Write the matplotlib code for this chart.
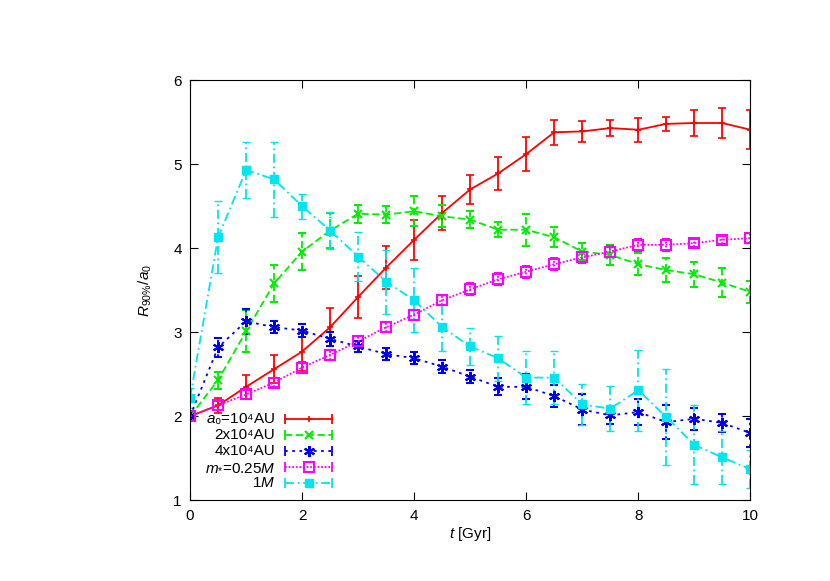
import numpy as np
import matplotlib
matplotlib.use('Agg')
import matplotlib.pyplot as plt

plt.rcParams['font.family'] = ['Liberation Sans', 'DejaVu Sans']
plt.rcParams['mathtext.fontset'] = 'custom'
plt.rcParams['mathtext.rm'] = 'Liberation Sans'
plt.rcParams['mathtext.it'] = 'Liberation Sans:italic'

t = np.arange(0, 10.01, 0.5)

# a0 = 1e4 AU
r1 = [2.0, 2.13, 2.35, 2.56, 2.77, 3.06, 3.42, 3.77, 4.10, 4.42, 4.70,
      4.89, 5.12, 5.38, 5.39, 5.43, 5.41, 5.48, 5.49, 5.49, 5.41]
e1 = [0.02, 0.09, 0.14, 0.17, 0.23, 0.23, 0.25, 0.26, 0.24, 0.20, 0.17,
      0.20, 0.20, 0.15, 0.13, 0.10, 0.14, 0.08, 0.15, 0.18, 0.23]
# 2e4 AU
r2 = [2.0, 2.43, 3.01, 3.58, 3.96, 4.21, 4.41, 4.40, 4.44, 4.38, 4.34,
      4.22, 4.22, 4.13, 3.96, 3.92, 3.81, 3.74, 3.69, 3.59, 3.48]
e2 = [0.02, 0.10, 0.25, 0.22, 0.22, 0.21, 0.11, 0.10, 0.18, 0.13, 0.10,
      0.09, 0.19, 0.12, 0.10, 0.12, 0.13, 0.14, 0.15, 0.17, 0.13]
# 4e4 AU
r3 = [2.0, 2.82, 3.13, 3.06, 3.02, 2.92, 2.83, 2.74, 2.69, 2.59, 2.47,
      2.35, 2.35, 2.24, 2.08, 2.01, 2.05, 1.93, 1.97, 1.92, 1.80]
e3 = [0.03, 0.11, 0.15, 0.07, 0.08, 0.08, 0.07, 0.07, 0.07, 0.08, 0.08,
      0.10, 0.15, 0.13, 0.18, 0.10, 0.16, 0.20, 0.13, 0.11, 0.17]
# m* = 0.25 M
r4 = [2.0, 2.13, 2.26, 2.40, 2.58, 2.73, 2.89, 3.06, 3.21, 3.38, 3.51,
      3.63, 3.72, 3.81, 3.89, 3.96, 4.04, 4.04, 4.06, 4.10, 4.12]
e4 = [0.03, 0.05, 0.05, 0.05, 0.06, 0.06, 0.06, 0.06, 0.06, 0.06, 0.07,
      0.07, 0.07, 0.07, 0.07, 0.07, 0.07, 0.07, 0.05, 0.05, 0.06]
# 1 M
r5 = [2.22, 4.13, 4.93, 4.82, 4.50, 4.21, 3.90, 3.60, 3.38, 3.06, 2.83,
      2.69, 2.46, 2.46, 2.14, 2.09, 2.31, 1.99, 1.66, 1.51, 1.37]
e5 = [0.12, 0.43, 0.33, 0.45, 0.15, 0.22, 0.29, 0.38, 0.38, 0.28, 0.22,
      0.27, 0.32, 0.32, 0.24, 0.27, 0.48, 0.57, 0.47, 0.32, 0.23]

labels = ['$a$\u2080=10\u2074AU', '2x10\u2074AU', '4x10\u2074AU',
          r'$m_{*}$=0.25$M$', r'1$M$']

styles = [
    dict(color='#ff0000', ls='-', marker='+', ms=5, mfc='#ff0000', mew=1.2),
    dict(color='#00ee00', ls=(0, (4, 2)), marker='x', ms=6, mfc='#00ee00', mew=1.5),
    dict(color='#0000ee', ls=(0, (1.5, 2.5)), marker=(6, 2, 0), ms=8, mfc='#0000ee', mew=1.5),
    dict(color='#ff00ff', ls=(0, (1, 1)), marker='s', ms=7, mfc='none', mew=1.5),
    dict(color='#00e5ee', ls=(0, (5, 2, 1, 2)), marker='s', ms=6, mfc='#00e5ee', mew=1.0),
]

fig = plt.figure(figsize=(8.3, 5.81), dpi=100)
ax = fig.add_axes([0.229, 0.139, 0.675, 0.723])

for r, e, st in zip([r1, r2, r3, r4, r5], [e1, e2, e3, e4, e5], styles):
    c = ax.errorbar(t, r, yerr=e, color=st['color'], ls=st['ls'], lw=1.3,
                    marker=st['marker'], ms=st['ms'], mfc=st['mfc'],
                    mec=st['color'], mew=st['mew'], capsize=3, capthick=1.3,
                    elinewidth=1.3)
    c[2][0].set_linestyle(st['ls'])

ax.set_xlim(0, 10)
ax.set_ylim(1, 6)
ax.set_xticks([0, 2, 4, 6, 8, 10])
ax.set_yticks([1, 2, 3, 4, 5, 6])
ax.tick_params(direction='in', top=True, right=True, length=6, labelsize=11, pad=6)
ax.set_xlabel(r'$t$ [Gyr]', fontsize=11, labelpad=2)
ax.set_ylabel(r'$R_{90\%}/a_0$', fontsize=11, labelpad=14)

# gnuplot style key: right aligned text, sample line with end caps
key_y = [0.194, 0.156, 0.117, 0.078, 0.040]
for yk, st, lab in zip(key_y, styles, labels):
    ax.text(0.152, yk, lab, transform=ax.transAxes, ha='right', va='center', fontsize=11)
    ax.plot([0.170, 0.254], [yk, yk], transform=ax.transAxes, color=st['color'],
            ls=st['ls'], lw=1.3, clip_on=False)
    ax.plot([0.170, 0.254], [yk, yk], transform=ax.transAxes, color=st['color'],
            ls='none', marker='|', ms=7, mew=1.3, clip_on=False)
    ax.plot([0.212], [yk], transform=ax.transAxes, color=st['color'], ls='none',
            marker=st['marker'], ms=st['ms'], mfc=st['mfc'], mec=st['color'],
            mew=st['mew'], clip_on=False)

fig.savefig('out.png', dpi=100)
